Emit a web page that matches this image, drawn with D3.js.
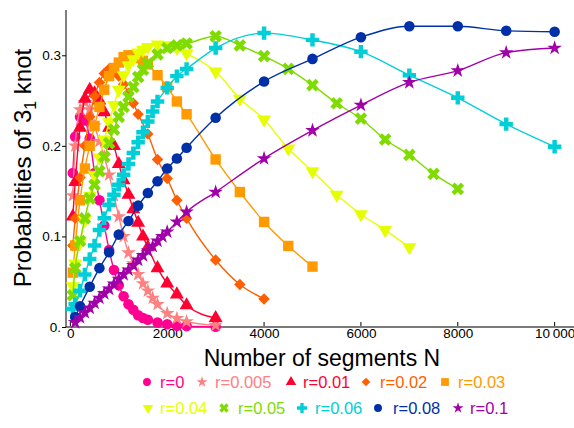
<!DOCTYPE html>
<html><head><meta charset="utf-8">
<script src="https://cdn.jsdelivr.net/npm/d3@7"></script>
<style>
body{margin:0;background:#fff}
svg{display:block}
text{font-family:"Liberation Sans",Arial,sans-serif}
</style>
</head><body>
<svg id="c" width="574" height="428"></svg>
<script>
// ---------- data ----------
const categories = ["r=0","r=0.005","r=0.01","r=0.02","r=0.03","r=0.04","r=0.05","r=0.06","r=0.08","r=0.1"];
const xTicks = [0,2000,4000,6000,8000,10000];
const xTickLabels = ["0","2000","4000","6000","8000","10\u2009000"];
const yTicks = [0,0.1,0.2,0.3];
const yTickLabels = ["0.","0.1","0.2","0.3"];

const N_r0    = [50,100,200,300,400,500,600,700,800,900,1000,1100,1200,1300,1400,1500,1600,1800,2000,2200,2400,3000];
const P_r0    = [0.17,0.21,0.232,0.228,0.208,0.17,0.14,0.112,0.085,0.063,0.046,0.034,0.025,0.019,0.013,0.010,0.008,0.005,0.003,0.0015,0.001,0.0003];
const N_r005  = [50,100,200,300,400,500,600,700,800,900,1000,1100,1200,1300,1400,1500,1600,1700,1800,2000,2200,2400,3000];
const P_r005  = [0.145,0.2,0.24,0.248,0.24,0.222,0.205,0.188,0.168,0.145,0.122,0.1,0.082,0.07,0.058,0.048,0.04,0.032,0.025,0.015,0.0096,0.006,0.002];
const N_r01   = [50,100,200,300,400,500,600,700,800,900,1000,1100,1200,1300,1400,1500,1600,1800,2000,2200,2400,3000];
const P_r01   = [0.122,0.16,0.22,0.252,0.262,0.258,0.25,0.237,0.22,0.2,0.18,0.162,0.146,0.13,0.115,0.1,0.088,0.065,0.048,0.036,0.024,0.01];
const N_r02   = [50,100,200,300,400,500,600,700,800,900,1000,1100,1200,1300,1400,1600,1800,2000,2200,2400,3000,3500,4000];
const P_r02   = [0.09,0.12,0.165,0.2,0.232,0.255,0.27,0.28,0.285,0.284,0.277,0.268,0.258,0.247,0.235,0.213,0.185,0.164,0.14,0.12,0.074,0.047,0.031];
const N_r03   = [50,100,200,300,400,500,600,700,800,900,1000,1100,1200,1300,1400,1500,1600,1800,2000,2200,2400,3000,3500,4000,4500,5000];
const P_r03   = [0.06,0.09,0.14,0.175,0.2,0.222,0.243,0.262,0.277,0.286,0.292,0.298,0.3,0.3,0.297,0.294,0.29,0.278,0.265,0.249,0.235,0.185,0.149,0.116,0.0895,0.0667];
const N_r04   = [50,100,200,300,400,500,600,700,800,900,1000,1100,1200,1300,1400,1500,1600,1800,2000,2200,2400,3000,3500,4000,4500,5000,5500,6000,6500,7000];
const P_r04   = [0.045,0.07,0.093,0.118,0.145,0.168,0.187,0.207,0.226,0.245,0.262,0.278,0.289,0.296,0.303,0.306,0.309,0.312,0.311,0.308,0.302,0.282,0.252,0.229,0.197,0.172,0.146,0.1245,0.107,0.088];
const N_r05   = [50,100,200,300,400,500,600,700,800,900,1000,1100,1200,1300,1400,1500,1600,1800,2000,2200,2400,3000,3500,4000,4500,5000,5500,6000,6500,7000,7500,8000];
const P_r05   = [0.035,0.065,0.095,0.12,0.142,0.157,0.172,0.188,0.203,0.218,0.232,0.243,0.254,0.265,0.276,0.284,0.291,0.301,0.308,0.311,0.313,0.321,0.311,0.299,0.285,0.267,0.247,0.23,0.207,0.19,0.169,0.1525];
const N_r06   = [50,100,200,300,400,500,600,700,800,900,1000,1100,1200,1300,1400,1500,1600,1700,1800,2000,2200,2400,3000,4000,5000,6000,7000,8000,9000,10000];
const P_r06   = [0.02,0.025,0.04,0.058,0.075,0.09,0.107,0.12,0.135,0.146,0.157,0.168,0.18,0.192,0.204,0.215,0.227,0.238,0.249,0.264,0.277,0.285,0.308,0.3245,0.317,0.304,0.278,0.253,0.224,0.199];
const N_r08   = [100,200,400,600,800,1000,1200,1400,1600,1800,2000,2200,2400,3000,4000,5000,6000,7000,8000,9000,10000];
const P_r08   = [0.011,0.023,0.0445,0.065,0.0825,0.102,0.117,0.134,0.148,0.161,0.175,0.186,0.198,0.231,0.271,0.296,0.32,0.332,0.332,0.327,0.326];
const N_r1    = [100,200,300,400,500,600,700,800,900,1000,1100,1200,1300,1400,1500,1600,1700,1800,1900,2000,2200,2400,3000,4000,5000,6000,7000,8000,9000,10000];
const P_r1    = [0.005,0.0105,0.016,0.021,0.0265,0.032,0.037,0.042,0.0475,0.053,0.058,0.063,0.068,0.074,0.079,0.084,0.089,0.095,0.1,0.105,0.116,0.127,0.149,0.186,0.217,0.245,0.27,0.283,0.303,0.308];

const seriesN = [N_r0,N_r005,N_r01,N_r02,N_r03,N_r04,N_r05,N_r06,N_r08,N_r1];
const seriesP = [P_r0,P_r005,P_r01,P_r02,P_r03,P_r04,P_r05,P_r06,P_r08,P_r1];

// ---------- styles ----------
const colors = ["#ff0090","#ff8080","#ff0030","#ff5f00","#ff9a00","#e6ff00","#7fdc00","#00cfd8","#0030a8","#a000a8"];
const shapes = ["circle","star","tri","diamond","square","tridown","x","plus","circle","star"];

const svg = d3.select("#c");
const x = d3.scaleLinear().domain([-90, 10400]).range([66, 574]);
const y = d3.scaleLinear().domain([0, 0.35]).range([327, 10]);

function symbolPath(shape, s) {
  switch (shape) {
    case "circle":  return d3.symbol(d3.symbolCircle, 88*s*s)();
    case "star":    return d3.symbol(d3.symbolStar, 66*s*s)();
    case "tri":     return d3.symbol(d3.symbolTriangle, 84*s*s)();
    case "tridown": return d3.symbol(d3.symbolTriangle, 84*s*s)();
    case "diamond": return d3.symbol(d3.symbolSquare, 66*s*s)();
    case "square":  return d3.symbol(d3.symbolSquare, 108*s*s)();
    case "x":       return d3.symbol(d3.symbolCross, 100*s*s)();
    case "plus":    return d3.symbol(d3.symbolCross, 100*s*s)();
  }
}
function symbolRot(shape) {
  if (shape === "tridown") return 180;
  if (shape === "diamond" || shape === "x") return 45;
  return 0;
}

// axes
const gx = svg.append("g").attr("transform", `translate(0,${y(0)})`);
gx.append("line").attr("x1", 66).attr("x2", 574).attr("y1", 0).attr("y2", 0)
  .attr("stroke", "#7a7a7a").attr("stroke-width", 2);
const xAxis = d3.axisBottom(x).tickValues(xTicks).tickSize(0)
  .tickFormat((d,i) => xTickLabels[i]);
const gxa = gx.append("g").call(xAxis);
gxa.select(".domain").remove();
gxa.selectAll("text").attr("font-size", 13.5).attr("fill", "#000").attr("dy", "0.6em")
  .attr("font-family", "Liberation Sans, Arial, sans-serif");
gx.selectAll(".xt").data(xTicks).join("line").attr("class","xt")
  .attr("x1", d => x(d)).attr("x2", d => x(d)).attr("y1", -1).attr("y2", -5)
  .attr("stroke", "#000").attr("stroke-width", 1);

const gy = svg.append("g").attr("transform", `translate(66,0)`);
const yAxis = d3.axisLeft(y).tickValues(yTicks).tickSize(4).tickFormat((d,i) => yTickLabels[i]);
const gya = gy.call(yAxis);
gya.select(".domain").attr("d", `M0,${y(0)}V10`).attr("stroke", "#000");
gya.selectAll(".tick line").attr("stroke", "#000");
gya.selectAll("text").attr("font-size", 13.5).attr("fill", "#000").attr("x", -5)
  .attr("font-family", "Liberation Sans, Arial, sans-serif");

// series
const line = d3.line().x(d => x(d[0])).y(d => y(d[1])).curve(d3.curveMonotoneX);
categories.forEach((c, i) => {
  const pts = seriesN[i].map((n, j) => [n, seriesP[i][j]]);
  const g = svg.append("g");
  g.append("path").attr("d", line(pts)).attr("fill", "none")
    .attr("stroke", colors[i]).attr("stroke-width", 1.4);
  g.selectAll("path.m").data(pts).join("path").attr("class","m")
    .attr("d", symbolPath(shapes[i], 1))
    .attr("transform", d => `translate(${x(d[0])},${y(d[1])}) rotate(${symbolRot(shapes[i])})`)
    .attr("fill", colors[i]);
});

// axis titles
const yl = svg.append("text")
  .attr("transform", "translate(31,168) rotate(-90)")
  .attr("text-anchor", "middle").attr("font-size", 24).attr("fill", "#000");
yl.append("tspan").text("Probabilities of 3");
yl.append("tspan").text("1").attr("font-size", 16).attr("dy", 5);
yl.append("tspan").text(" knot").attr("dy", -5);

svg.append("text").attr("x", 322).attr("y", 366).attr("text-anchor", "middle")
  .attr("font-size", 23).attr("fill", "#000").text("Number of segments N");

// legend
const legMX = [147,202,291,366,445, 148,224,302,378,458];
const legTX = [160,215,303,380,458, 160,238,315,393,470];
categories.forEach((c, i) => {
  const row = i < 5 ? 0 : 1;
  const cy = row === 0 ? 382 : 408;
  svg.append("path").attr("d", symbolPath(shapes[i], 0.75))
    .attr("transform", `translate(${legMX[i]},${cy}) rotate(${symbolRot(shapes[i])})`)
    .attr("fill", colors[i]);
  svg.append("text").attr("x", legTX[i]).attr("y", cy + 6)
    .attr("font-size", 16.5).attr("fill", colors[i]).text(c);
});
</script>
</body></html>
